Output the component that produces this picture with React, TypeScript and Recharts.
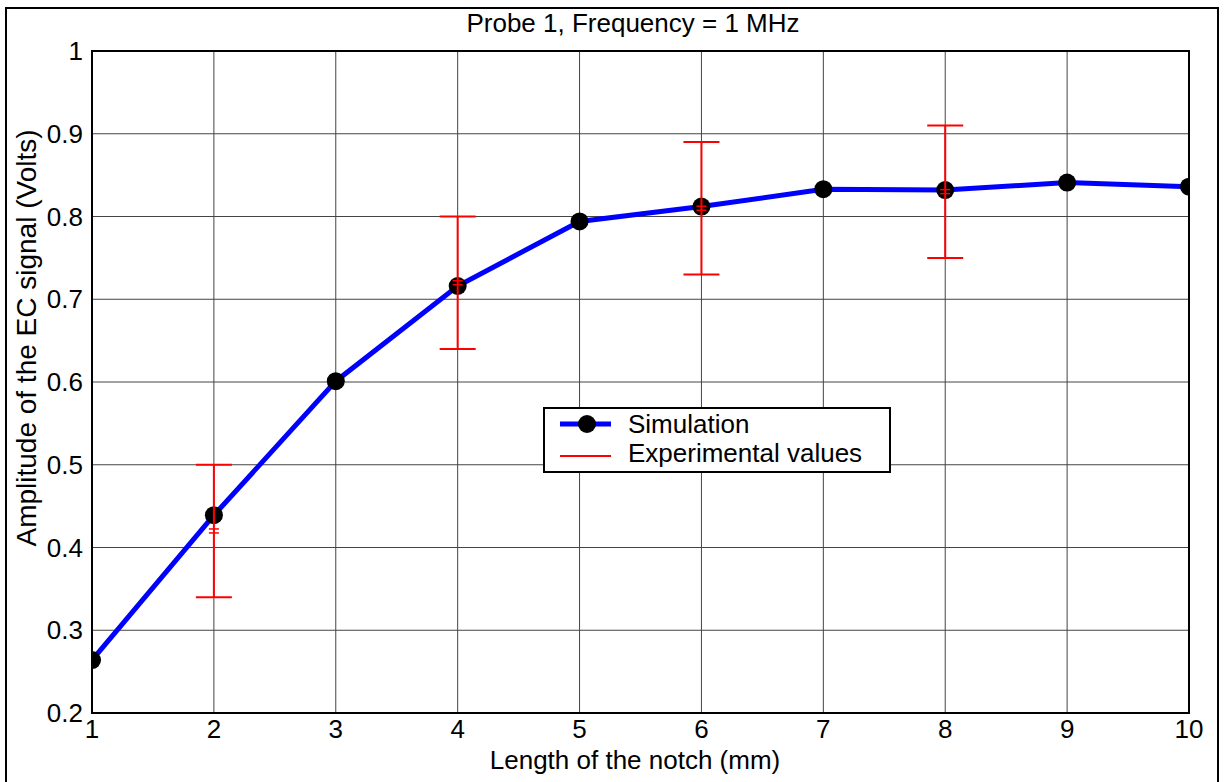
import { ComposedChart, Line, Scatter, ErrorBar, XAxis, YAxis, CartesianGrid, ReferenceArea, Legend } from 'recharts'

const FONT = '"Liberation Sans", Arial, sans-serif'

const notchLengths = [1, 2, 3, 4, 5, 6, 7, 8, 9, 10]
const simulation = [0.264, 0.439, 0.601, 0.716, 0.794, 0.812, 0.833, 0.832, 0.841, 0.836]

const expLengths = [2, 4, 6, 8]
const expValues = [0.42, 0.72, 0.81, 0.83]
const expErrors = [0.08, 0.08, 0.08, 0.08]

const xTicks = [1, 2, 3, 4, 5, 6, 7, 8, 9, 10]
const yTicks = [0.2, 0.3, 0.4, 0.5, 0.6, 0.7, 0.8, 0.9, 1]

const simData = notchLengths.map((x, i) => ({ x, y: simulation[i] }))
const expData = expLengths.map((x, i) => ({ x, y: expValues[i], err: expErrors[i] }))

const tickStyle = { fill: '#000', fontSize: 26, fontFamily: FONT }

function ExpMark(props: any) {
  const { cx, cy } = props
  return (
    <g stroke="#ff0000" strokeWidth={1.5}>
      <line x1={cx - 5} x2={cx + 5} y1={cy - 2} y2={cy - 2} />
      <line x1={cx - 5} x2={cx + 5} y1={cy + 2} y2={cy + 2} />
    </g>
  )
}

function LegendBox() {
  return (
    <svg width={348} height={66} style={{ display: 'block' }}>
      <rect x={1} y={1} width={346} height={64} fill="#fff" stroke="#000" strokeWidth={2} />
      <line x1={17} x2={68} y1={17} y2={17} stroke="#0000ff" strokeWidth={5} />
      <circle cx={44} cy={17} r={9} fill="#000" />
      <text x={85} y={26} fontSize={26} fontFamily={FONT} fill="#000">Simulation</text>
      <line x1={17} x2={68} y1={49} y2={49} stroke="#ff0000" strokeWidth={2} />
      <text x={85} y={55} fontSize={26} fontFamily={FONT} fill="#000">Experimental values</text>
    </svg>
  )
}

export default function App() {
  return (
    <div style={{ position: 'absolute', left: 0, top: 0, width: 1225, height: 782, overflow: 'hidden', background: '#fff' }}>
      <div style={{ position: 'absolute', left: 5, top: 7, width: 1214, height: 800, border: '2px solid #000', boxSizing: 'border-box' }} />
      <ComposedChart width={1225} height={782} margin={{ top: 51, right: 36, bottom: 0, left: 0 }} style={{ position: 'absolute', left: 0, top: 0 }}>
        <CartesianGrid stroke="#444" strokeWidth={1} />
        <XAxis
          dataKey="x"
          type="number"
          domain={[1, 10]}
          ticks={xTicks}
          height={69}
          axisLine={false}
          tickLine={false}
          tickSize={0}
          tickMargin={7}
          tick={tickStyle}
          allowDataOverflow
        />
        <YAxis
          type="number"
          domain={[0.2, 1]}
          ticks={yTicks}
          width={92}
          axisLine={false}
          tickLine={false}
          tickSize={0}
          tickMargin={9}
          tick={tickStyle}
          tickFormatter={(v: number) => String(Math.round(v * 10) / 10)}
          allowDataOverflow
        />
        <ReferenceArea x1={1} x2={10} y1={0.2} y2={1} fill="none" stroke="#000" strokeWidth={2} ifOverflow="visible" />
        <Line
          data={simData}
          dataKey="y"
          type="linear"
          stroke="#0000ff"
          strokeWidth={5}
          dot={{ r: 9, fill: '#000', stroke: '#000', strokeWidth: 0 }}
          activeDot={false}
          isAnimationActive={false}
        />
        <Scatter data={expData} dataKey="y" shape={<ExpMark />} isAnimationActive={false} zIndex={900}>
          <ErrorBar dataKey="err" direction="y" width={18} stroke="#ff0000" strokeWidth={2} isAnimationActive={false} zIndex={900} />
        </Scatter>
        <Legend
          verticalAlign="middle"
          align="center"
          layout="horizontal"
          content={() => <LegendBox />}
          wrapperStyle={{ left: 543, top: 407, width: 348, height: 66 }}
        />
      </ComposedChart>
      <svg width={1225} height={782} style={{ position: 'absolute', left: 0, top: 0, pointerEvents: 'none' }}>
        <text x={633} y={32} textAnchor="middle" fontSize={26} fontFamily={FONT} fill="#000">Probe 1, Frequency = 1 MHz</text>
        <text x={635} y={769} textAnchor="middle" fontSize={26} fontFamily={FONT} fill="#000">Length of the notch (mm)</text>
        <text x={36} y={338} textAnchor="middle" fontSize={28} fontFamily={FONT} fill="#000" transform="rotate(-90, 36, 338)">Amplitude of the EC signal (Volts)</text>
      </svg>
    </div>
  )
}
